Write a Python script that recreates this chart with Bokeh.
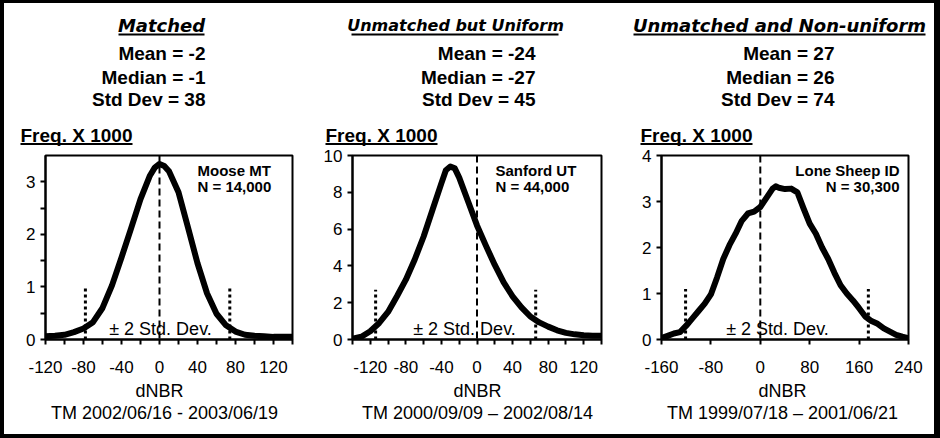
from bokeh.plotting import figure
from bokeh.models import Range1d, FixedTicker, Span, Label, PrintfTickFormatter
from bokeh.layouts import row, column
from bokeh.embed import file_html
from bokeh.resources import INLINE
from bokeh.core.properties import value

# ---- data -------------------------------------------------------------
titles = ["Matched", "Unmatched but Uniform", "Unmatched and Non-uniform"]
means = [-2, -24, 27]
medians = [-1, -27, 26]
std_devs = [38, 45, 74]
sites = ["Moose MT", "Sanford UT", "Lone Sheep ID"]
counts = ["14,000", "44,000", "30,300"]
dates = ["TM 2002/06/16 - 2003/06/19",
         "TM 2000/09/09 \u2013 2002/08/14",
         "TM 1999/07/18 \u2013 2001/06/21"]

# dNBR histograms (frequency x 1000)
moose_x = [-120, -110, -100, -90, -80, -70, -60, -50, -40, -30, -20, -10, -5,
           0, 5, 10, 20, 30, 40, 50, 60, 70, 80, 90, 100, 110, 120, 130, 140]
moose_y = [0.06, 0.07, 0.09, 0.14, 0.21, 0.33, 0.60, 1.03, 1.56, 2.11, 2.67,
           3.12, 3.27, 3.34, 3.30, 3.20, 2.80, 2.13, 1.45, 0.88, 0.49, 0.27,
           0.15, 0.09, 0.07, 0.06, 0.05, 0.05, 0.05]

sanford_x = [-140, -130, -120, -110, -100, -90, -80, -70, -60, -50, -40, -35,
             -30, -25, -20, -10, 0, 10, 20, 30, 40, 50, 60, 70, 80, 90, 100,
             110, 120, 130, 140]
sanford_y = [0.04, 0.15, 0.45, 0.90, 1.50, 2.35, 3.25, 4.35, 5.60, 7.05, 8.50,
             9.20, 9.40, 9.30, 8.80, 7.50, 6.20, 5.10, 4.05, 3.10, 2.35, 1.75,
             1.25, 0.93, 0.70, 0.50, 0.36, 0.28, 0.23, 0.21, 0.20]

lone_x = [-160, -150, -140, -130, -120, -110, -100, -90, -80, -70, -60, -50,
          -40, -30, -20, -10, 0, 10, 20, 25, 30, 40, 50, 60, 70, 80, 90, 100,
          110, 120, 130, 140, 150, 160, 170, 180, 190, 200, 210, 220, 230, 240]
lone_y = [0.03, 0.08, 0.13, 0.16, 0.30, 0.46, 0.62, 0.78, 0.98, 1.35, 1.75,
          2.05, 2.30, 2.58, 2.74, 2.78, 2.88, 3.08, 3.28, 3.33, 3.30, 3.27,
          3.28, 3.20, 2.85, 2.52, 2.30, 2.00, 1.75, 1.45, 1.18, 1.00, 0.85,
          0.68, 0.50, 0.40, 0.34, 0.24, 0.17, 0.10, 0.06, 0.03]

# axis ticks
x_major = [[-120, -80, -40, 0, 40, 80, 120],
           [-120, -80, -40, 0, 40, 80, 120],
           [-160, -80, 0, 80, 160, 240]]
x_minor = [[-100, -60, -20, 20, 60, 100, 140],
           [-140, -100, -60, -20, 20, 60, 100, 140],
           []]
y_major = [[0, 1, 2, 3], [0, 2, 4, 6, 8, 10], [0, 1, 2, 3, 4]]
y_minor = [[0.5, 1.5, 2.5], [], []]
x_limits = [(-120, 140), (-140, 140), (-160, 240)]
y_limits = [(0, 3.5), (0, 10), (0, 4)]
# height of the +/- 2 std. dev. markers
sd_marker_top = [1.0, 2.7, 1.1]

curves = [(moose_x, moose_y), (sanford_x, sanford_y), (lone_x, lone_y)]

# ---- layout ------------------------------------------------------------
INNER_W = 930
PANEL_W = 310
HEAD_H, CHART_H, FOOT_H = 143, 234, 54
SANS = "Liberation Sans"

# heading block (pixels from the top-left of the heading strip)
title_cx = [157, 451, 775]
title_size = ["18px", "16px", "18px"]
title_ul = [(114, 200), (347, 554), (629, 921)]
stats_right = [201, 531, 830]
freq_left = [16, 321, 636]
TITLE_Y, TITLE_UL_Y = 22, 31
STATS_Y = [50, 73.5, 96]
FREQ_Y, FREQ_UL_Y, FREQ_UL_W = 132, 140.5, 112

# footer strip
dnbr_cx = [155, 473, 778]
date_cx = [160, 473, 778]
FOOT_Y = [10, 32]

# plot frames
border_l = [41, 38, 37]
border_r = [22, 23, 26]
site_x = [152, 143, 238]
site_align = ["left", "left", "right"]
SITE_Y = [169, 153]
sd_label_x = [115, 112, 116]
SD_LABEL_Y = 11


def strip(width, height):
    p = figure(width=width, height=height, x_range=Range1d(0, width),
               y_range=Range1d(height, 0), x_axis_type=None, y_axis_type=None,
               output_backend="svg", toolbar_location=None, min_border=0,
               title=None)
    p.grid.visible = False
    p.outline_line_color = None
    p.background_fill_color = "white"
    p.border_fill_color = "white"
    return p


def txt(p, xs, ys, texts, size, align, style="normal", font=SANS):
    p.text(x=xs, y=ys, text=texts, text_font=value(font),
           text_font_size=size, text_font_style=style, text_align=align,
           text_baseline="middle", text_color="black")


def heading():
    p = strip(INNER_W, HEAD_H)
    for i in range(3):
        txt(p, [title_cx[i]], [TITLE_Y], [titles[i]], title_size[i], "center",
            "bold italic", "DejaVu Sans")
        stats = [f"Mean = {means[i]}", f"Median = {medians[i]}",
                 f"Std Dev = {std_devs[i]}"]
        txt(p, [stats_right[i]] * 3, STATS_Y, stats, "19px", "right", "bold")
        txt(p, [freq_left[i]], [FREQ_Y], ["Freq. X 1000"], "19px", "left",
            "bold")
    p.segment(x0=[a for a, b in title_ul] + freq_left,
              x1=[b for a, b in title_ul] + [f + FREQ_UL_W for f in freq_left],
              y0=[TITLE_UL_Y] * 3 + [FREQ_UL_Y] * 3,
              y1=[TITLE_UL_Y] * 3 + [FREQ_UL_Y] * 3,
              line_color="black", line_width=2)
    return p


def footer():
    p = strip(INNER_W, FOOT_H)
    txt(p, dnbr_cx, [FOOT_Y[0]] * 3, ["dNBR"] * 3, "18px", "center")
    txt(p, date_cx, [FOOT_Y[1]] * 3, dates, "18px", "center")
    return p


def label(x, y, text, size, align, style="normal"):
    return Label(x=x, y=y, x_units="screen", y_units="screen", text=text,
                 text_font=SANS, text_font_size=size, text_font_style=style,
                 text_align=align, text_baseline="middle", text_color="black")


def chart(i):
    xs, ys = curves[i]
    p = figure(width=PANEL_W, height=CHART_H,
               x_range=Range1d(*x_limits[i]), y_range=Range1d(*y_limits[i]),
               output_backend="svg", toolbar_location=None, title=None,
               min_border_left=border_l[i], min_border_right=border_r[i],
               min_border_top=9, min_border_bottom=41)
    p.grid.visible = False
    p.outline_line_color = "black"
    p.outline_line_width = 2
    p.background_fill_color = "white"
    p.border_fill_color = "white"

    p.xaxis.ticker = FixedTicker(ticks=x_major[i], minor_ticks=x_minor[i])
    p.yaxis.ticker = FixedTicker(ticks=y_major[i], minor_ticks=y_minor[i])
    for ax in (p.xaxis[0], p.yaxis[0]):
        ax.formatter = PrintfTickFormatter(format="%d")
        ax.axis_line_color = "black"
        ax.axis_line_width = 2
        ax.major_tick_line_color = "black"
        ax.major_tick_line_width = 2
        ax.minor_tick_line_color = "black"
        ax.minor_tick_line_width = 2
        ax.major_tick_in = 0
        ax.major_tick_out = 5
        ax.minor_tick_in = 0
        ax.minor_tick_out = 5
        ax.major_label_text_font = SANS
        ax.major_label_text_font_size = "17px"
        ax.major_label_text_color = "black"
    p.xaxis.major_label_standoff = 16
    p.yaxis.major_label_standoff = 5

    # reference line at dNBR = 0
    p.add_layout(Span(location=0, dimension="height", line_color="black",
                      line_width=2, line_dash="7 4"))

    # +/- 2 standard deviations around the mean
    lo = means[i] - 2 * std_devs[i]
    hi = means[i] + 2 * std_devs[i]
    top = sd_marker_top[i]
    p.segment(x0=[lo, hi], y0=[0, 0], x1=[lo, hi], y1=[top, top],
              line_color="black", line_width=3, line_dash="3 3")

    p.line(xs, ys, line_color="black", line_width=6, line_join="round",
           line_cap="round")

    p.add_layout(label(site_x[i], SITE_Y[0], sites[i], "15px",
                       site_align[i], "bold"))
    p.add_layout(label(site_x[i], SITE_Y[1], f"N = {counts[i]}", "15px",
                       site_align[i], "bold"))
    p.add_layout(label(sd_label_x[i], SD_LABEL_Y, "\u00b1 2 Std. Dev.", "18px",
                       "center"))
    return p


page = column(
    heading(),
    row(*[chart(i) for i in range(3)], spacing=0),
    footer(),
    spacing=0,
    styles={"border-style": "solid", "border-color": "black",
            "border-width": "3px 6px 4px 4px"},
)

open("out.html", "w").write(file_html(page, INLINE))
